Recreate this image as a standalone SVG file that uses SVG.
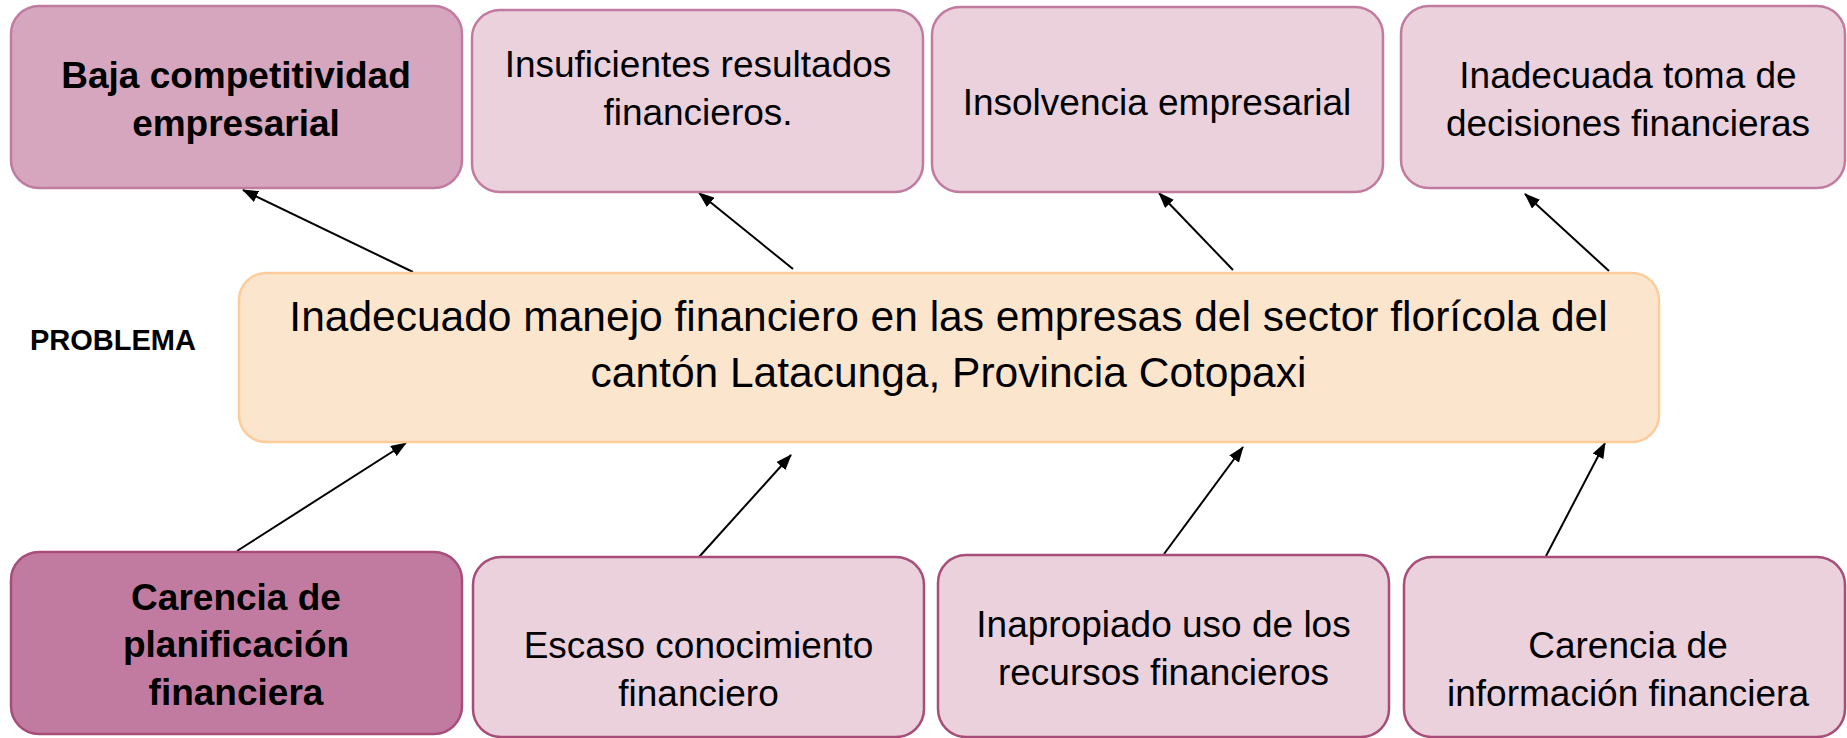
<svg xmlns="http://www.w3.org/2000/svg" width="1847" height="738" viewBox="0 0 1847 738">
<defs>
<style>
.t{font-family:"Liberation Sans",Arial,sans-serif;fill:#000;text-anchor:middle}
.r{font-size:37px}
.b{font-size:37px;font-weight:bold}
.effect{fill:#ead1dc;stroke:#c27ba0;stroke-width:2.5}
.cause{fill:#ead1dc;stroke:#a64d79;stroke-width:2.5}
.conn{stroke:#000;stroke-width:2;fill:none;marker-end:url(#ah)}
</style>
<marker id="ah" viewBox="0 0 16 12" refX="15" refY="6" markerWidth="16" markerHeight="12" markerUnits="userSpaceOnUse" orient="auto">
<path d="M0,0 L16,6 L0,12 z" fill="#000"/>
</marker>
</defs>
<rect width="1847" height="738" fill="#fff"/>

<g id="connectors">
<line class="conn" x1="413" y1="272" x2="243" y2="190"/>
<line class="conn" x1="793" y1="269" x2="699" y2="193"/>
<line class="conn" x1="1233" y1="270" x2="1159" y2="193"/>
<line class="conn" x1="1609" y1="271" x2="1525" y2="194"/>
<line class="conn" x1="237" y1="551" x2="406" y2="443"/>
<line class="conn" x1="699" y1="557" x2="791" y2="455"/>
<line class="conn" x1="1164" y1="554" x2="1243" y2="447"/>
<line class="conn" x1="1546" y1="556" x2="1605" y2="443"/>
</g>

<g id="label-problema">
<text class="t" x="30" y="350" style="text-anchor:start;font-size:29px;font-weight:bold">PROBLEMA</text>
</g>

<g id="problema">
<rect x="239" y="273" width="1420" height="169" rx="27" fill="#fce5cd" stroke="#fdcc9c" stroke-width="2.5"/>
<text class="t" x="948.5" y="331" style="font-size:42.5px">Inadecuado manejo financiero en las empresas del sector florícola del</text>
<text class="t" x="948.5" y="387" style="font-size:42.5px">cantón Latacunga, Provincia Cotopaxi</text>
</g>

<g id="efecto1">
<rect x="11" y="6" width="451" height="182" rx="28" fill="#d5a6bd" stroke="#c27ba0" stroke-width="2.5"/>
<text class="t b" x="236" y="88">Baja competitividad</text>
<text class="t b" x="236" y="136">empresarial</text>
</g>
<g id="efecto2">
<rect class="effect" x="472" y="10" width="451" height="182" rx="28"/>
<text class="t r" x="698" y="77">Insuficientes resultados</text>
<text class="t r" x="698" y="125">financieros.</text>
</g>
<g id="efecto3">
<rect class="effect" x="932" y="7" width="451" height="185" rx="28"/>
<text class="t r" x="1157" y="115">Insolvencia empresarial</text>
</g>
<g id="efecto4">
<rect class="effect" x="1401" y="6" width="444" height="182" rx="28"/>
<text class="t r" x="1628" y="88">Inadecuada toma de</text>
<text class="t r" x="1628" y="136">decisiones financieras</text>
</g>

<g id="causa1">
<rect x="11" y="552" width="451" height="182" rx="28" fill="#c27ba0" stroke="#a64d79" stroke-width="2.5"/>
<text class="t b" x="236" y="610">Carencia de</text>
<text class="t b" x="236" y="657">planificación</text>
<text class="t b" x="236" y="705">financiera</text>
</g>
<g id="causa2">
<rect class="cause" x="473" y="557" width="451" height="180" rx="28"/>
<text class="t r" x="698.5" y="658">Escaso conocimiento</text>
<text class="t r" x="698.5" y="706">financiero</text>
</g>
<g id="causa3">
<rect class="cause" x="938" y="555" width="451" height="182" rx="28"/>
<text class="t r" x="1163.5" y="637">Inapropiado uso de los</text>
<text class="t r" x="1163.5" y="685">recursos financieros</text>
</g>
<g id="causa4">
<rect class="cause" x="1404" y="557" width="441" height="180" rx="28"/>
<text class="t r" x="1628" y="658">Carencia de</text>
<text class="t r" x="1628" y="706">información financiera</text>
</g>
</svg>
